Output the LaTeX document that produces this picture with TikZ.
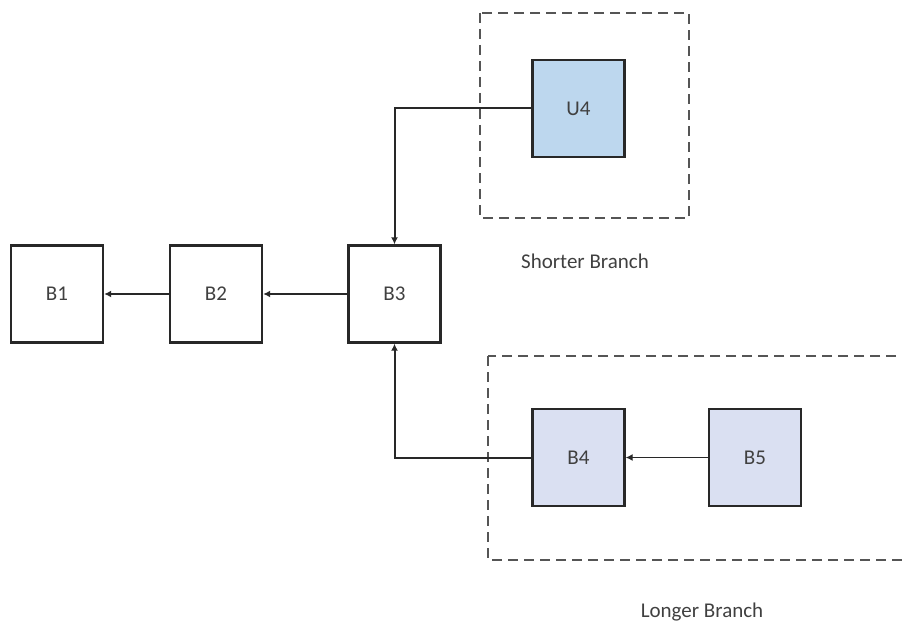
\documentclass[tikz,border=0pt]{standalone}
\usepackage{fontspec}
\setmainfont{Carlito}
\usetikzlibrary{arrows.meta}
\definecolor{ublue}{RGB}{189,215,238}
\definecolor{lav}{RGB}{218,224,242}
\definecolor{edge}{RGB}{40,40,40}
\definecolor{dashc}{RGB}{85,85,85}
\definecolor{txt}{RGB}{64,64,64}
\begin{document}
\begin{tikzpicture}[x=1pt,y=-1pt,
  blk/.style={draw=edge,line width=2.4pt,minimum width=92pt,minimum height=97pt,inner sep=0pt,font=\fontsize{21}{24}\selectfont,text=txt},
  grp/.style={draw=dashc,line width=2.2pt,dash pattern=on 10pt off 6pt},
  conn/.style={draw=edge,line width=2pt,-{Latex[length=7pt,width=7pt]}},
  lbl/.style={font=\fontsize{21}{24}\selectfont,text=txt}]
\useasboundingbox (0,0) rectangle (902,623);
\clip (0,0) rectangle (902,623);
\draw[grp] (480,13) rectangle (689,218);
\draw[grp] (488,356) rectangle (960,560);
\node[blk] (b1) at (57,294) {B1};
\node[blk] (b2) at (216,294) {B2};
\node[blk] (b3) at (394.5,294) {B3};
\node[blk,fill=ublue] (u4) at (578.5,108.5) {U4};
\node[blk,fill=lav] (b4) at (578.5,457.5) {B4};
\node[blk,fill=lav] (b5) at (755,457.5) {B5};
\node[lbl] (sb) at (585,261) {Shorter Branch};
\node[lbl] (lb) at (702,612) {Longer Branch};
\draw[conn] (b3.west) -- (b2.east);
\draw[conn] (b2.west) -- (b1.east);
\draw[conn] (u4.west) -| (b3.north);
\draw[conn] (b4.west) -| (b3.south);
\draw[conn,line width=1.2pt] (b5.west) -- (b4.east);
\end{tikzpicture}
\end{document}
